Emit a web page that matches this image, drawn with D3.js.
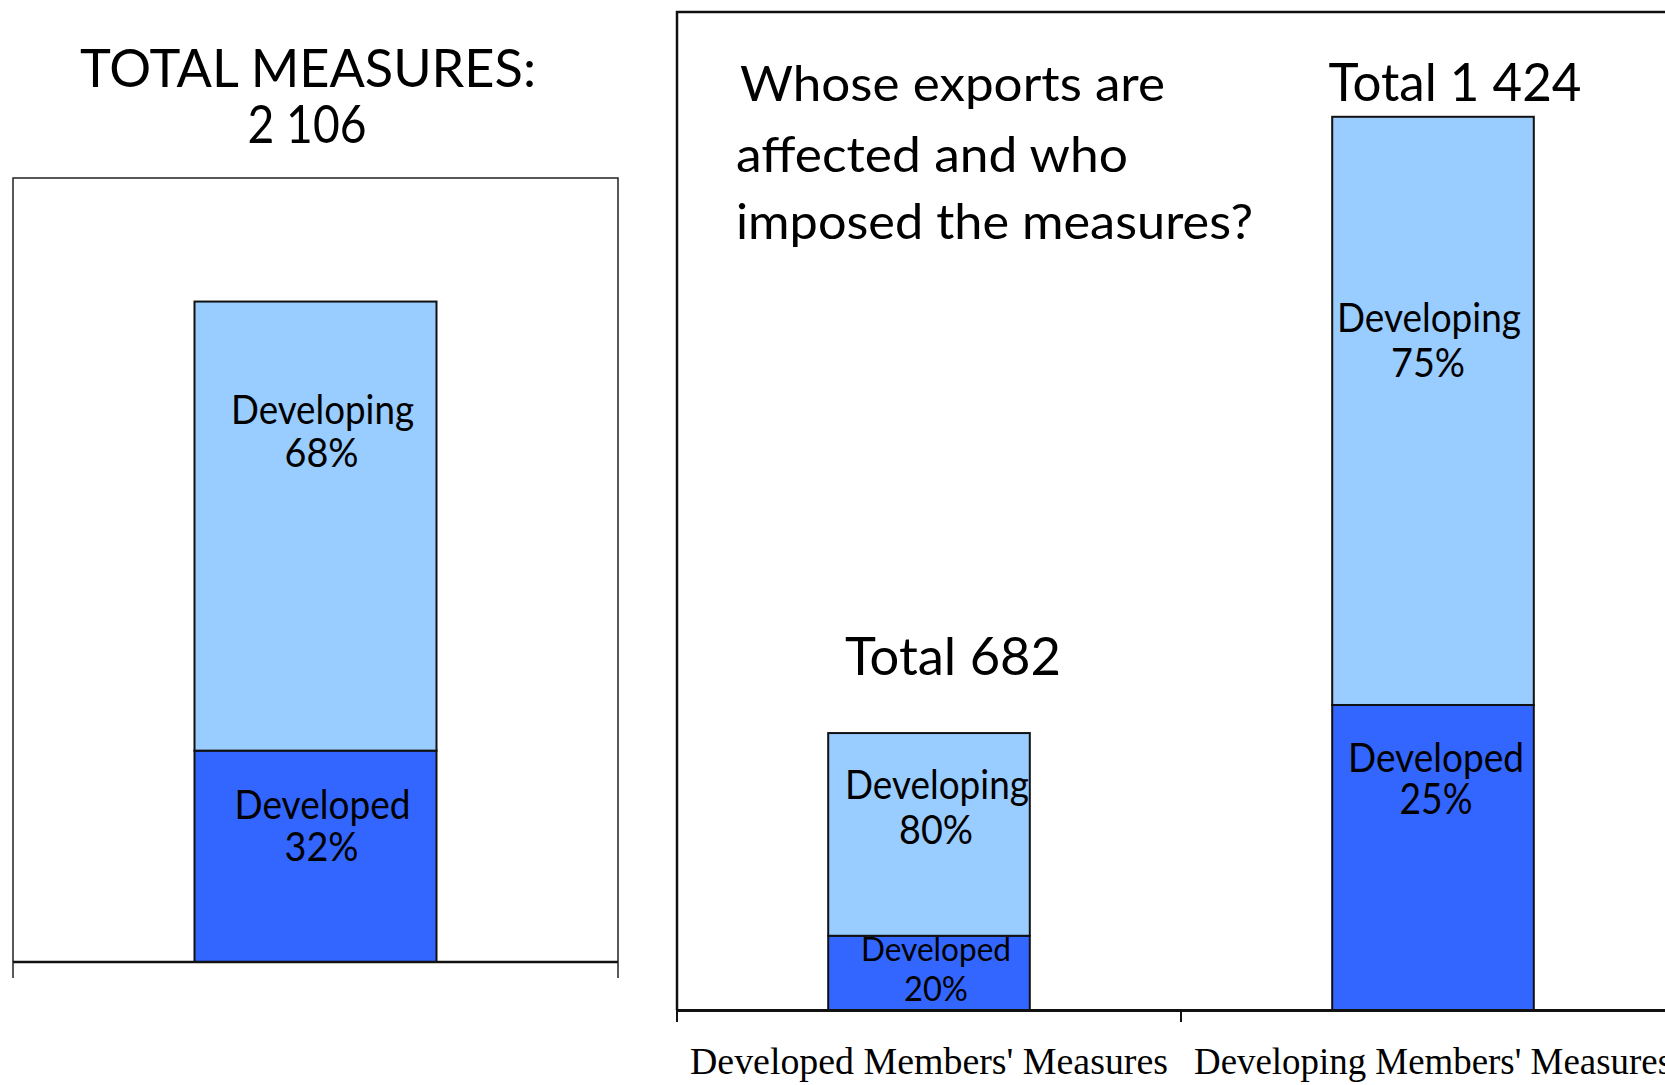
<!DOCTYPE html>
<html>
<head>
<meta charset="utf-8">
<script src="https://cdn.jsdelivr.net/npm/d3@7"></script>
<style>
  html, body { margin: 0; padding: 0; background: #fff; overflow: hidden; }
  svg { display: block; }
  .comic { font-family: "Lato", "Noto Sans", sans-serif; fill: #000; }
</style>
</head>
<body>
<script>
// ---------------- DATA ----------------
// Left panel: all measures
const leftCategories = ["All measures"];
const leftTotalLabel = ["TOTAL MEASURES:", "2 106"];
const leftDeveloped = [674];    // 32% of 2 106
const leftDeveloping = [1432];  // 68% of 2 106
const leftDevelopedPct = ["32%"];
const leftDevelopingPct = ["68%"];

// Right panel: who imposed the measures (bars as drawn in the original, not to scale)
const rightCategories = ["Developed Members' Measures", "Developing Members' Measures"];
const rightTotals = ["Total 682", "Total 1 424"];
const rightDeveloped = [119, 489];
const rightDeveloping = [325, 943];
const rightDevelopedPct = ["20%", "25%"];
const rightDevelopingPct = ["80%", "75%"];
const questionLines = ["Whose exports are", "affected and who", "imposed the measures?"];
const segmentNames = ["Developed", "Developing"];

// ---------------- LAYOUT ----------------
const W = 1665, H = 1085;
const colDeveloped = "#3366FF", colDeveloping = "#99CCFF";

const svg = d3.select("body").append("svg").attr("width", W).attr("height", H);

function fitText(sel, width) {
  sel.attr("textLength", width).attr("lengthAdjust", "spacingAndGlyphs");
  return sel;
}
// two-line label as one text element
function twoLine(g, x, y, lines, dys, sizes, widths, dxs) {
  const t = g.append("text").attr("class", "comic").attr("text-anchor", "middle");
  lines.forEach((s, k) => {
    fitText(t.append("tspan").attr("x", x + (dxs ? dxs[k] : 0)).attr("y", y + dys[k])
      .attr("font-size", sizes[k]).text(s), widths[k]);
  });
  return t;
}

// ===== Left panel =====
const L = { x0: 13, x1: 618, top: 178, bottom: 962 };
const xL = d3.scaleBand().domain(leftCategories).range([L.x0, L.x1]).paddingInner(0.6).paddingOuter(0.3);
const yL = d3.scaleLinear().domain([0, 2500]).range([L.bottom, L.top]);

const gL = svg.append("g");
gL.append("path")
  .attr("d", `M${L.x0},${L.bottom}V${L.top}H${L.x1}V${L.bottom}`)
  .attr("fill", "none").attr("stroke", "#222").attr("stroke-width", 1.5);

const leftStack = d3.stack().keys(["dev", "ing"])(leftCategories.map((c, i) => ({ cat: c, dev: leftDeveloped[i], ing: leftDeveloping[i] })));
leftStack.forEach((layer, li) => {
  gL.selectAll(null).data(layer).join("rect")
    .attr("x", d => xL(d.data.cat))
    .attr("width", xL.bandwidth())
    .attr("y", d => yL(d[1]))
    .attr("height", d => yL(d[0]) - yL(d[1]))
    .attr("fill", li === 0 ? colDeveloped : colDeveloping)
    .attr("stroke", "#111").attr("stroke-width", 2);
});
gL.append("line").attr("x1", L.x0).attr("x2", L.x1).attr("y1", L.bottom).attr("y2", L.bottom)
  .attr("stroke", "#111").attr("stroke-width", 2.5);
[L.x0, L.x1].forEach(x => gL.append("line").attr("x1", x).attr("x2", x).attr("y1", L.bottom).attr("y2", L.bottom + 16)
  .attr("stroke", "#222").attr("stroke-width", 1.5));

// title
twoLine(gL, 308, 87, leftTotalLabel, [0, 56], [52, 52], [456, 119], [0, -1]);

// segment labels
leftCategories.forEach((c, i) => {
  const cx = xL(c) + xL.bandwidth() / 2 + 7;
  const topY = yL(leftDeveloped[i] + leftDeveloping[i]);
  const splitY = yL(leftDeveloped[i]);
  twoLine(gL, cx, topY, [segmentNames[1], leftDevelopingPct[i]], [122, 165], [40, 40], [183, 74], [0, -1]);
  twoLine(gL, cx, splitY, [segmentNames[0], leftDevelopedPct[i]], [68, 110], [40, 40], [176, 74], [0, -1]);
});

// ===== Right panel =====
const R = { x0: 677, top: 12, bottom: 1010, band: 504 };
const xR = d3.scaleBand().domain(rightCategories).range([R.x0, R.x0 + R.band * rightCategories.length])
  .paddingInner(0).paddingOuter(0);
const yR = d3.scaleLinear().domain([0, 1600]).range([R.bottom, R.top]);
const barW = R.band * 0.4;
const barX = c => xR(c) + (xR.bandwidth() - barW) / 2;

const gR = svg.append("g");
gR.append("path")
  .attr("d", `M${R.x0},${R.bottom}V${R.top}H${W + 10}`)
  .attr("fill", "none").attr("stroke", "#111").attr("stroke-width", 2.5);

const rightStack = d3.stack().keys(["dev", "ing"])(rightCategories.map((c, i) => ({ cat: c, dev: rightDeveloped[i], ing: rightDeveloping[i] })));
rightStack.forEach((layer, li) => {
  gR.selectAll(null).data(layer).join("rect")
    .attr("x", d => barX(d.data.cat))
    .attr("width", barW)
    .attr("y", d => yR(d[1]))
    .attr("height", d => yR(d[0]) - yR(d[1]))
    .attr("fill", li === 0 ? colDeveloped : colDeveloping)
    .attr("stroke", "#111").attr("stroke-width", 2);
});

// x axis
const axisR = gR.append("g").attr("transform", `translate(0,${R.bottom})`)
  .call(d3.axisBottom(xR).tickSize(0).tickPadding(64));
axisR.select(".domain").attr("stroke", "#111").attr("stroke-width", 3)
  .attr("d", `M${R.x0},0.5H${W + 10}`);
axisR.selectAll(".tick text")
  .attr("font-family", "'Liberation Serif', 'Times New Roman', serif")
  .attr("font-size", 38).attr("fill", "#000")
  .attr("dy", "0")
  .attr("textLength", 478).attr("lengthAdjust", "spacingAndGlyphs");
rightCategories.concat([null]).forEach((c, i) => {
  const x = R.x0 + i * R.band;
  gR.append("line").attr("x1", x).attr("x2", x).attr("y1", R.bottom).attr("y2", R.bottom + 12)
    .attr("stroke", "#111").attr("stroke-width", 2);
});

// question text
const q = gR.append("text").attr("class", "comic");
const qW = [425, 392, 517], qY = [101, 172, 239], qX = [740, 736, 736];
questionLines.forEach((t, i) => {
  fitText(q.append("tspan").attr("x", qX[i]).attr("y", qY[i]).attr("font-size", 49).text(t), qW[i]);
});

// totals above bars
const totalY = [675, 101];
const totalW = [216, 253];
const totalDx = [24, 22];
rightCategories.forEach((c, i) => {
  fitText(gR.append("text").attr("class", "comic")
    .attr("x", barX(c) + barW / 2 + totalDx[i]).attr("y", totalY[i]).attr("text-anchor", "middle")
    .attr("font-size", 52).text(rightTotals[i]), totalW[i]);
});

// segment labels
const ingOff = [66, 215], devOff = [25, 67];
const pctGap = [45, 45], devPctGap = [40, 42];
const ingDx = [8, -4], devDx = [7, 3];
const devSize = [32, 40], devW = [150, 176], devPctW = [64, 73];
rightCategories.forEach((c, i) => {
  const cx = barX(c) + barW / 2;
  const topY = yR(rightDeveloped[i] + rightDeveloping[i]);
  const splitY = yR(rightDeveloped[i]);
  twoLine(gR, cx + ingDx[i], topY, [segmentNames[1], rightDevelopingPct[i]],
    [ingOff[i], ingOff[i] + pctGap[i]], [40, 40], [184, 74], [0, -1]);
  twoLine(gR, cx + devDx[i], splitY, [segmentNames[0], rightDevelopedPct[i]],
    [devOff[i], devOff[i] + devPctGap[i]], [devSize[i], devSize[i] + 2], [devW[i], devPctW[i]], [0, 0]);
});
</script>
</body>
</html>
